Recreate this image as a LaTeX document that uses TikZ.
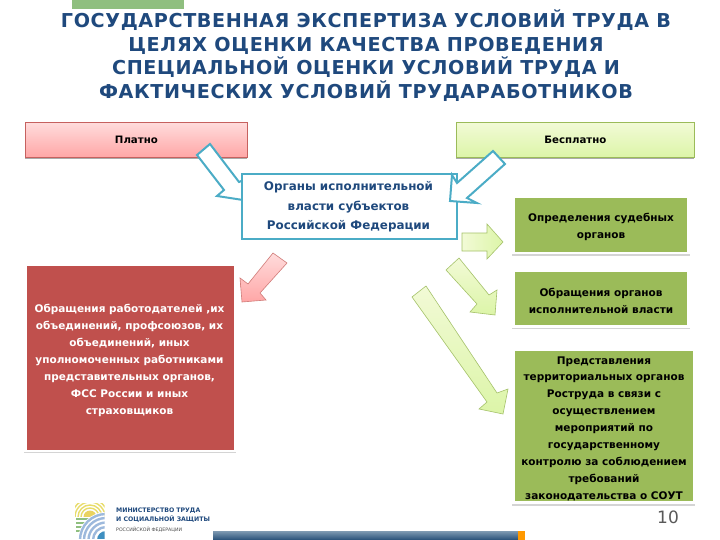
\documentclass[tikz,border=0pt]{standalone}
\usepackage{fontspec}
\setmainfont{DejaVu Sans}
\newfontfamily\titlefont[LetterSpace=3.3]{DejaVu Sans Bold}
\newfontfamily\boxfont{DejaVu Sans Bold}
\definecolor{navy}{HTML}{1F497D}
\definecolor{teal}{HTML}{4BACC6}
\definecolor{oliveg}{HTML}{9BBB59}
\definecolor{brick}{HTML}{C0504D}
\definecolor{lineg}{HTML}{D4D4D4}
\definecolor{paletop}{HTML}{F2FAD6}
\definecolor{palebot}{HTML}{DCF5A8}
\definecolor{pinktop}{HTML}{FFDCDC}
\definecolor{pinkbot}{HTML}{FFA6A6}
\definecolor{barteal}{HTML}{7F9AB2}
\definecolor{bardark}{HTML}{264F78}
\definecolor{sunyellow}{HTML}{E8DC6A}
\definecolor{logogreen}{HTML}{8FBF7F}
\definecolor{logoblue}{HTML}{9DB9DC}
\definecolor{logodeep}{HTML}{3F8FC0}
\tikzset{
  titletext/.style={font=\titlefont\fontsize{19.15}{23.6}\selectfont,text=navy,align=center,inner sep=0pt},
  boxtext/.style={font=\boxfont\fontsize{10.5}{16.9}\selectfont,align=center,inner sep=0pt},
  toptext/.style={font=\boxfont\fontsize{10.2}{12}\selectfont,inner sep=0pt},
  paidbox/.style={draw=brick!90,line width=0.8pt,top color=pinktop,bottom color=pinkbot,inner sep=0pt,anchor=north west},
  freebox/.style={draw=oliveg,line width=0.8pt,top color=paletop,bottom color=palebot,inner sep=0pt,anchor=north west},
  flatgreen/.style={fill=oliveg,inner sep=0pt,anchor=north west},
  flatred/.style={fill=brick,inner sep=0pt,anchor=north west},
  rule/.style={draw=lineg,line width=1.4pt},
  tealarrow/.style={draw=teal,fill=white,line width=2pt,line join=miter},
  redarrow/.style={draw=brick!75,line width=0.6pt,top color=pinktop,bottom color=pinkbot},
  greenarrow/.style={draw=oliveg!90,line width=0.6pt,top color=paletop,bottom color=palebot},
}
\begin{document}
\begin{tikzpicture}[x=1pt,y=-1pt]
\useasboundingbox (0,0) rectangle (720,540);
\fill[white] (0,0) rectangle (720,540);
% decorative bars
\fill[logogreen] (72,0) rectangle (184,9);
\shade[top color=barteal,bottom color=bardark] (213,531) rectangle (518,540);
\fill[orange!80!yellow] (518,531) rectangle (525,540);
% title
\node[titletext] (title) at (366,55.5) {ГОСУДАРСТВЕННАЯ ЭКСПЕРТИЗА УСЛОВИЙ ТРУДА В\\ЦЕЛЯХ ОЦЕНКИ КАЧЕСТВА ПРОВЕДЕНИЯ\\СПЕЦИАЛЬНОЙ ОЦЕНКИ УСЛОВИЙ ТРУДА И\\ФАКТИЧЕСКИХ УСЛОВИЙ ТРУДАРАБОТНИКОВ};
% top boxes
\fill[lineg!80!black] (25,157) rectangle (247,159.5);
\fill[lineg!80!black] (456,157) rectangle (694,159.5);
\node[paidbox,minimum width=222pt,minimum height=35pt] (paid) at (25,122) {};
\node[toptext] (paidlabel) at (paid.center) {Платно};
\node[freebox,minimum width=238pt,minimum height=35pt] (free) at (456,122) {};
\node[toptext] (freelabel) at (free.center) {Бесплатно};
% arrow behind the centre box
\draw[tealarrow] (210,144) -- (239,182) -- (249,178) -- (243,200) -- (217,196) -- (224,190) -- (197,155) -- cycle;
% centre box
\node[draw=teal,line width=2pt,fill=white,inner sep=0pt,anchor=north west,minimum width=215pt,minimum height=65pt] (organ) at (240.5,173) {};
\node[text=navy,font=\boxfont\fontsize{11.9}{19.6}\selectfont,align=center,inner sep=0pt] (organlabel) at (348.5,207) {Органы исполнительной\\власти субъектов\\Российской Федерации};
\draw[tealarrow] (493,151) -- (505,164) -- (467,198) -- (477,203) -- (450,201) -- (452,175) -- (457,183) -- cycle;
% left red
\node[flatred,minimum width=207pt,minimum height=184pt] (red) at (27,266) {};
\draw[rule] (24,452.5) -- (236,452.5);
\node[boxtext,text=white] (redlabel) at (129.5,360.5) {Обращения работодателей ,их\\объединений, профсоюзов, их\\объединений, иных\\уполномоченных работниками\\представительных органов,\\ФСС России и иных\\страховщиков};
\draw[redarrow] (273,253) -- (287,263) -- (260,293) -- (266,300) -- (242,302) -- (240,278) -- (248,284) -- cycle;
% right green
\node[flatgreen,minimum width=172pt,minimum height=54pt] (g1) at (515,198) {};
\draw[rule] (512,255) -- (690,255);
\node[boxtext] (g1label) at (601,227) {Определения судебных\\органов};
\node[flatgreen,minimum width=172pt,minimum height=53pt] (g2) at (515,272) {};
\draw[rule] (512,328.5) -- (690,328.5);
\node[boxtext] (g2label) at (601,300.5) {Обращения органов\\исполнительной власти};
\node[flatgreen,minimum width=178pt,minimum height=150pt] (g3) at (515,351) {};
\draw[rule] (512,505) -- (695,505);
\node[boxtext] (g3label) at (604,428.5) {Представления\\территориальных органов\\Роструда в связи с\\осуществлением\\мероприятий по\\государственному\\контролю за соблюдением\\требований\\законодательства о СОУТ};
% green arrows
\shade[draw=oliveg!90,line width=0.6pt,left color=paletop,right color=palebot] (462,233) -- (487,233) -- (487,224) -- (503,242) -- (487,259) -- (487,251) -- (462,251) -- cycle;
\draw[greenarrow] (459,258) -- (489,295) -- (497,290) -- (495,315) -- (470,312) -- (477,304) -- (446,270) -- cycle;
\draw[greenarrow] (426,286) -- (497,393) -- (508,389) -- (503,414) -- (479,409) -- (487,402) -- (412,297) -- cycle;
% page number
\node[font=\fontsize{17}{20}\selectfont,text=black!65,inner sep=0pt] (pageno) at (668,517) {10};
% logo
\begin{scope}
\clip (75,503) rectangle (104.5,538);
\foreach \r in {9,12,15,18,21}{\draw[sunyellow,line width=1.4pt] (90,517)+(180:\r) arc (180:360:\r);}
\fill[sunyellow!90!orange] (90,517) circle (6.5);
\fill[white] (75,517) rectangle (105,538);
\foreach \yy/\xx in {518/92,522/88,526/85,530/82}{\fill[logogreen] (76,\yy) rectangle (\xx,\yy+2.2);}
\fill[white] (106,540) circle (28);
\foreach \r in {13,17.5,22,26}{\draw[logoblue,line width=2.4pt] (106,540)+(180:\r) arc (180:270:\r);}
\fill[logodeep] (106,540) circle (9);
\end{scope}
\node[anchor=west,inner sep=0pt,text=navy,font=\boxfont\fontsize{6.2}{8.9}\selectfont,align=left] (logotext) at (116,515.5) {МИНИСТЕРСТВО ТРУДА\\И СОЦИАЛЬНОЙ ЗАЩИТЫ};
\node[anchor=west,inner sep=0pt,text=black!70,font=\fontsize{4.7}{6}\selectfont] (logosub) at (116,529.5) {РОССИЙСКОЙ ФЕДЕРАЦИИ};
\end{tikzpicture}
\end{document}
